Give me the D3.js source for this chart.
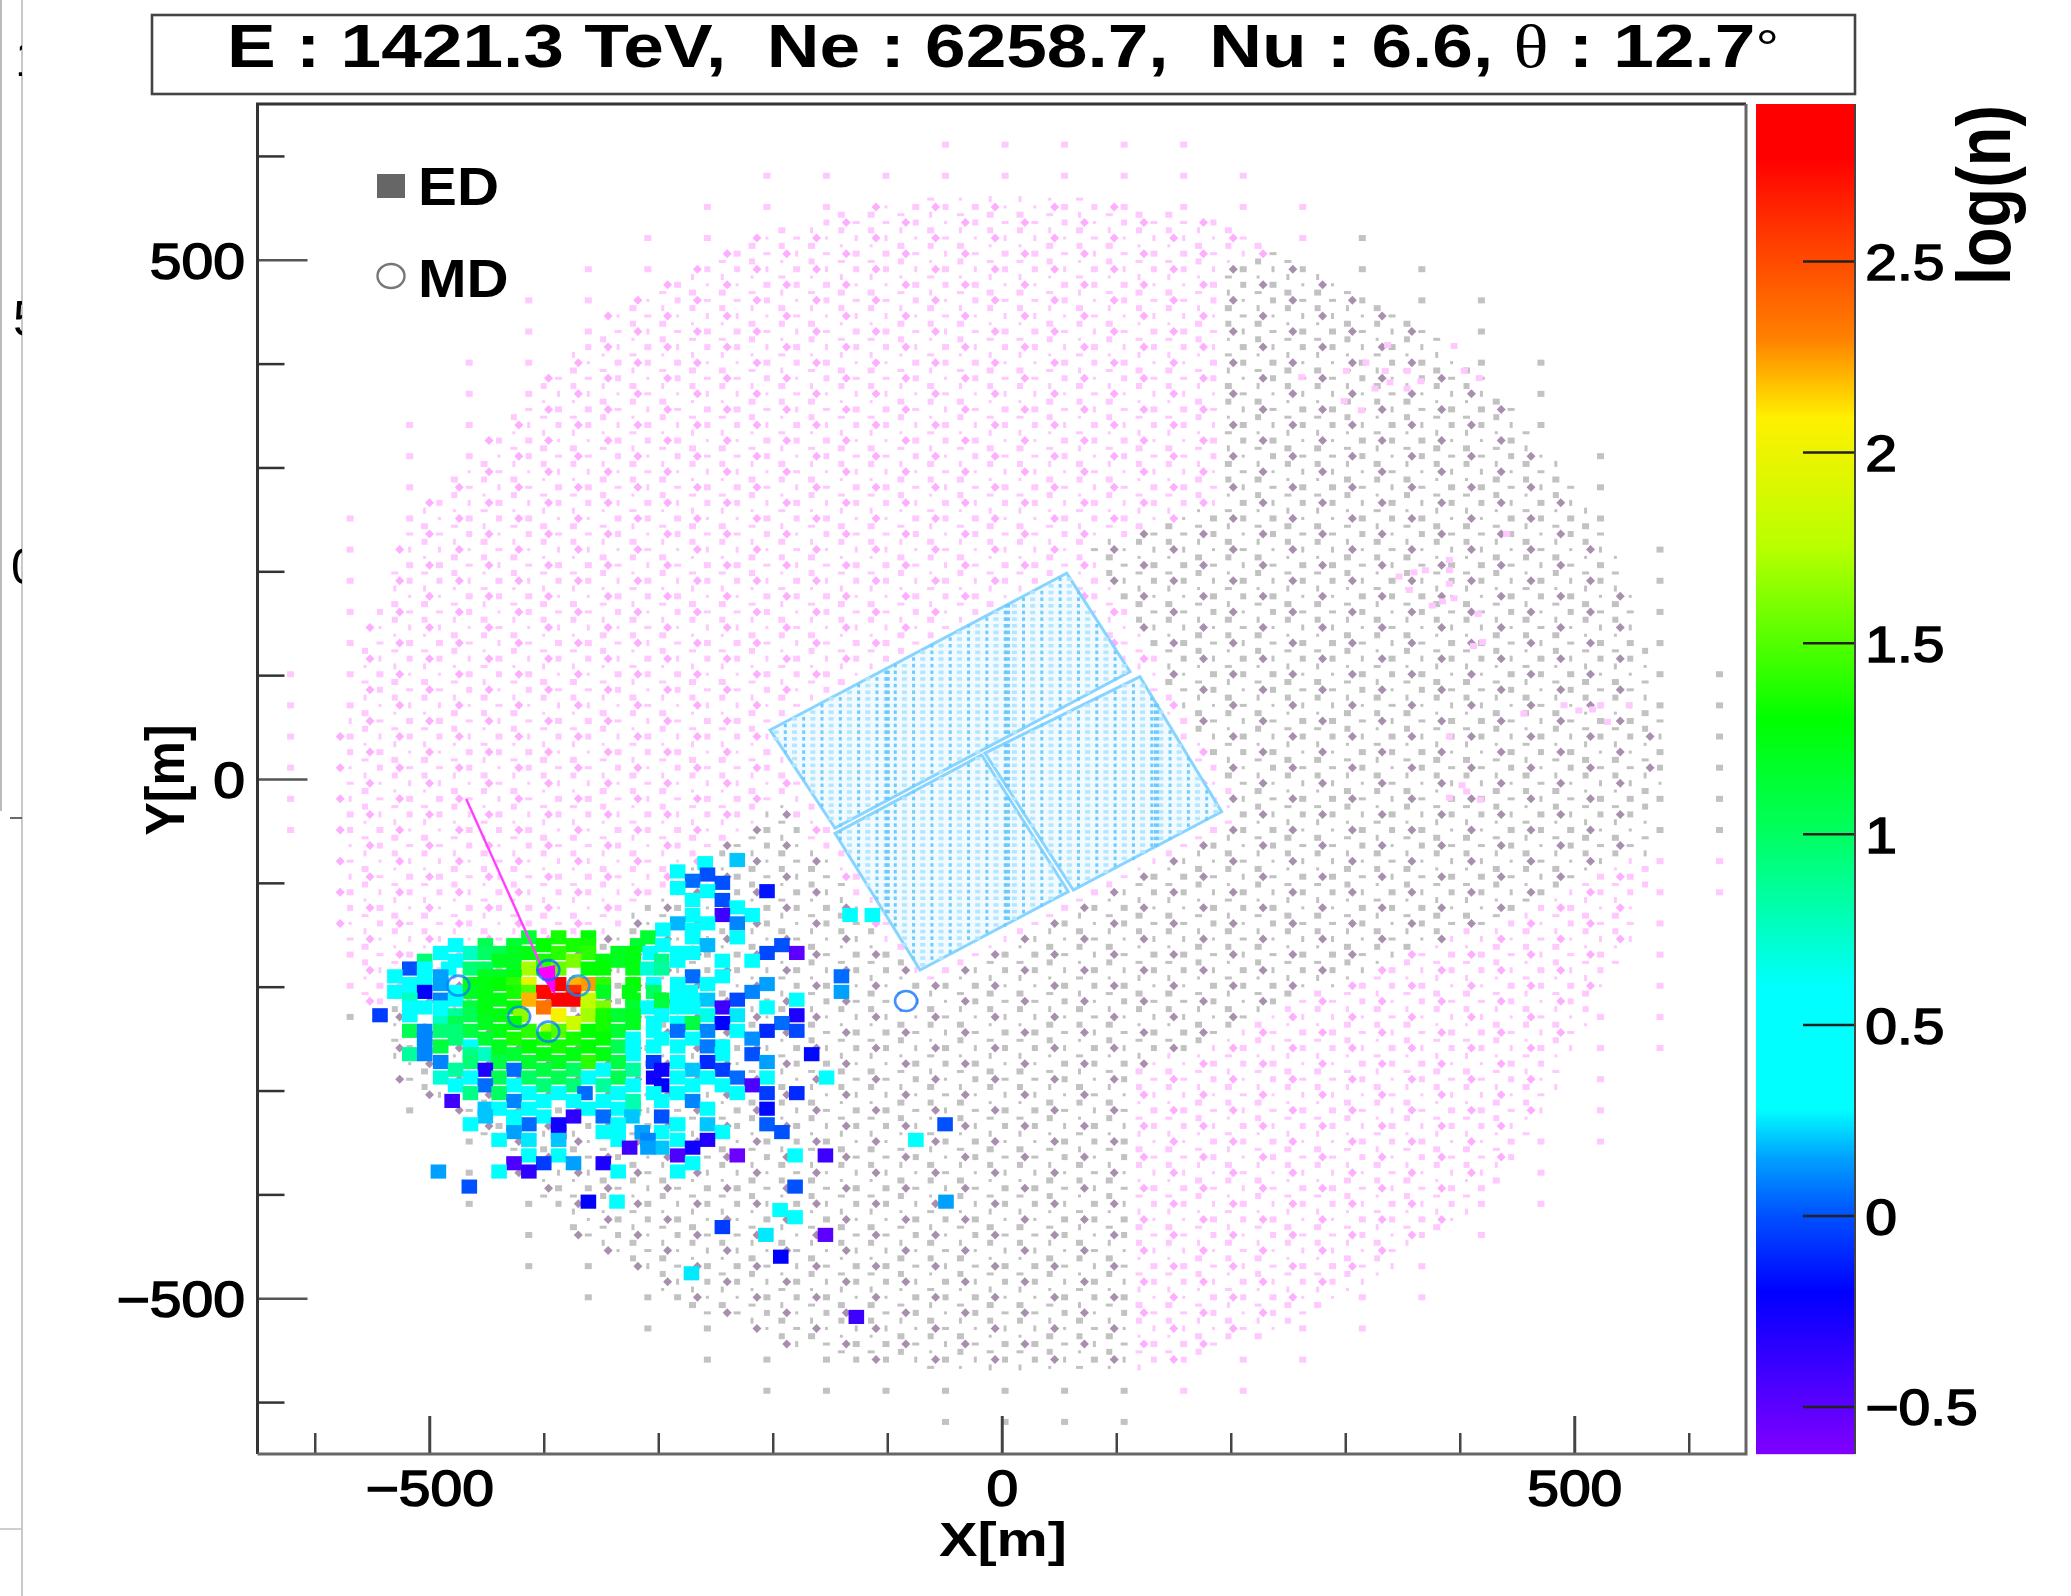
<!DOCTYPE html>
<html>
<head>
<meta charset="utf-8">
<script src="https://cdn.jsdelivr.net/npm/d3@7"></script>
<style>
    html, body { margin: 0; padding: 0; background: #fff; }
    svg { display: block; filter: blur(0.6px); }
    text { font-family: "Liberation Sans", Arial, sans-serif; fill: #000; }
</style>
</head>
<body>
<div id="main"></div>
<script>
var ctx = {
    w: 2071,
    h: 1596,
    left: 257.5,
    right: 1746,
    top: 104,
    bottom: 1454,
    HIT_SIZE: 13.6, // metres, side of a fired detector square
    TEXT_STRETCH: 1.14, // the source picture is wider than tall
};

// colour scale
var paletteValues = [-0.62, -0.2, 0, 0.15, 0.28, 0.6, 1, 1.3, 1.75, 2.09, 2.3, 2.6, 2.77, 2.91];
var paletteColors = ["#8000ff", "#0000ff", "#0050ff", "#00a0ff", "#00ffff", "#00ffff", "#00ff60", "#00ff00", "#b8ff00", "#fff000", "#ff8000", "#ff3000", "#ff0000", "#ff0000"];

var xMajor = [-500, 0, 500];
var xMinor = [-600, -400, -300, -200, -100, 100, 200, 300, 400, 600];
var yMajor = [-500, 0, 500];
var yMinor = [-600, -400, -300, -200, -100, 100, 200, 300, 400, 600];
var barTicks = [-0.5, 0, 0.5, 1, 1.5, 2, 2.5];

// fired detectors, one row per y [m]: [y, [[x, log(n)], ...]]
var hitRows = [
    [-78, [[-231, 0.2]]],
    [-81, [[-259, 0.3]]],
    [-89, [[-283, 0.4]]],
    [-92, [[-257, 0]]],
    [-98, [[-270, 0.05]]],
    [-100, [[-244, 0]]],
    [-105, [[-283, 0.4]]],
    [-108, [[-257, 0.4], [-205, -0.15]]],
    [-116.5, [[-244, 0], [-270, 0.45]]],
    [-123.6, [[-231, 0.4]]],
    [-131, [[-270, 0.45], [-218, 0.4], [-244, -0.4], [-132.5, 0.4], [-113, 0.55]]],
    [-139, [[-231, 0.1], [-257, 0.4], [-283, 0.18]]],
    [-145, [[-296, 0.45], [-270, 0.45]]],
    [-152.5, [[-413, 1.15], [-387, 1.35], [-361, 1.3], [-309, 1.15], [-231, 0.4], [-270, 0.45]]],
    [-160, [[-477, 0.55], [-451, 1.05], [-426, 1.15], [-400, 1.3], [-374, 1.35], [-361, 1.35], [-318, 1.15], [-257, 0.18], [-192, 0], [-296, 0.55]]],
    [-167.5, [[-490, 0.55], [-464, 0.75], [-439, 1.05], [-451, 1], [-426, 1.2], [-413, 1.25], [-387, 1.4], [-361, 1.4], [-335, 1.2], [-322, 1.25], [-307, 0.6], [-283, 0.6], [-270, 0.5], [-205, -0.02], [-179, -0.5]]],
    [-175, [[-504, 0.95], [-477, 0.55], [-439, 1.2], [-426, 1.2], [-400, 1.35], [-374, 1.6], [-348, 1.25], [-335, 1.2], [-322, 1.25], [-297, 0.9], [-283, 0.55], [-244, 0.45], [-218, 0.4]]],
    [-182.5, [[-517, 0], [-504, 0.55], [-483, 0.6], [-464, 0.95], [-451, 1], [-426, 1.2], [-413, 1.7], [-400, 1.4], [-387, 1.55], [-361, 1.3], [-348, 1.3], [-322, 1.25], [-309, 0.7], [-297, 0.85]]],
    [-190, [[-530, 0.45], [-504, 0.5], [-490, 0.15], [-451, 1.2], [-439, 1.2], [-426, 1.25], [-270, 0.05], [-244, 0.4], [-140, 0.05]]],
    [-197.5, [[-517, 0.55], [-504, 0.55], [-490, 0.15], [-464, 1.25], [-451, 1.25], [-439, 1.3], [-426, 1.4], [-413, 1.95], [-387, 2.8], [-371, 2.2], [-361, 2.25], [-348, 1.4], [-322, 1.3], [-304, 0.45], [-283, 0.55], [-257, 0.35], [-205, 0.15]]],
    [-205, [[-530, 0.45], [-517, 0.45], [-504, -0.2], [-477, 0.55], [-464, 1.2], [-451, 1.25], [-426, 1.35], [-413, 1.5], [-400, 2.75], [-374, 2.6], [-348, 1.2], [-325, 1.25], [-304, 1], [-283, 0.55], [-272, 0.5], [-140, 0.15], [-218, 0.1]]],
    [-212.5, [[-517, 0.75], [-490, 0.1], [-477, 0.55], [-451, 1.25], [-439, 1.25], [-413, 2.2], [-387, 2.8], [-374, 2.8], [-361, 1.8], [-322, 1.25], [-297, 1.15], [-283, 0.6], [-270, 0.5], [-257, 0.2], [-231, -0.02], [-179, 0.4]]],
    [-220, [[-517, 0.45], [-504, 0.5], [-490, 0.5], [-464, 1.1], [-451, 1.25], [-426, 1.3], [-400, 2.35], [-361, 1.8], [-348, 1.6], [-322, 1.15], [-309, 0.6], [-297, 1.1], [-283, 0.55], [-270, 0.5], [-244, -0.4], [-205, 0.35]]],
    [-227.5, [[-543, -0.05], [-517, 0.45], [-490, 0.5], [-477, 0.85], [-464, 1.05], [-451, 1.25], [-439, 1.25], [-420, 1.65], [-387, 2.05], [-361, 1.7], [-348, 1.35], [-335, 1.15], [-322, 1.2], [-297, 0.5], [-257, 0.65], [-179, -0.3], [-231, 0.25]]],
    [-235, [[-490, 0.75], [-477, 1.05], [-451, 1.2], [-426, 1.3], [-374, 1.85], [-348, 1.35], [-322, 1.2], [-304, 0.45], [-283, 0.5], [-270, 1.1], [-244, -0.2], [-192, 0.05]]],
    [-242.5, [[-517, 1.05], [-504, 0.1], [-490, 0.95], [-477, 0.95], [-464, 1.1], [-439, 1.25], [-413, 1.4], [-396, 1.7], [-387, 1.5], [-361, 1.3], [-348, 1.35], [-335, 1.15], [-304, 0.45], [-283, 0.05], [-257, 0.1], [-205, -0.1], [-179, -0.02], [-231, 0.4]]],
    [-250, [[-504, 0.1], [-477, 0.95], [-451, 1.15], [-426, 1.35], [-400, 1.35], [-374, 1.35], [-348, 1.3], [-322, 0.5], [-297, 0.45], [-270, 0.45], [-218, 0.12]]],
    [-257.5, [[-504, 0.1], [-490, 1.1], [-464, 0.6], [-439, 1.2], [-413, 1.3], [-387, 1.35], [-361, 1.3], [-335, 1.05], [-322, 0.5], [-304, 0.4], [-283, 0.45], [-244, 0.4], [-257, 0.08]]],
    [-265, [[-517, 0.85], [-504, 0.1], [-464, 0.9], [-451, 0.75], [-439, 1.2], [-426, 1.15], [-400, 1.25], [-374, 1.25], [-348, 1.25], [-322, 0.45], [-166, -0.18], [-218, 0], [-244, 0.45]]],
    [-272.5, [[-490, 0.1], [-464, 0.95], [-439, 1.1], [-413, 1.15], [-387, 1.2], [-361, 1.4], [-335, 1.1], [-304, -0.05], [-283, 0.55], [-257, -0.1], [-205, 0.15]]],
    [-280, [[-477, 0.85], [-451, -0.3], [-426, 0.05], [-400, 1.1], [-374, 1], [-348, 0.45], [-322, 0.85], [-297, -0.25], [-270, 0.2], [-244, -0.05]]],
    [-287.5, [[-490, 0.7], [-464, 0.4], [-439, 1.05], [-413, 1], [-387, 1.05], [-361, 0.4], [-335, 1.05], [-304, -0.25], [-283, 0.45], [-257, 0.45], [-205, 0.35], [-231, 0.05], [-153, 0.35]]],
    [-295, [[-477, 0.45], [-451, 0.05], [-426, 0.35], [-400, 0.95], [-374, 0.95], [-348, 0.85], [-322, 0.45], [-297, -0.2], [-270, 0.5], [-218, -0.45], [-244, 0.4]]],
    [-302.5, [[-464, 0.9], [-439, 1], [-413, 0.45], [-387, 0.4], [-364, 0.05], [-335, 0.45], [-304, 0.45], [-283, 0.45], [-231, 0.45], [-205, -0.05], [-179, -0.1]]],
    [-310, [[-480, -0.4], [-426, 0.1], [-400, 0.4], [-374, 0.45], [-348, 0.35], [-322, 0.8], [-297, 0.4], [-270, 0.1]]],
    [-317.5, [[-451, 0.2], [-439, 0.45], [-413, 0.45], [-361, 0.4], [-335, 0.45], [-322, 0.8], [-205, -0.18], [-257, 0.4]]],
    [-325, [[-451, 0.2], [-426, 0.4], [-400, 0.4], [-374, -0.35], [-348, 0.05], [-323, 0.2], [-297, 0]]],
    [-332.5, [[-464, 0.45], [-413, 0.05], [-426, 0.4], [-387, -0.25], [-335, 0.3], [-283, 0.4], [-257, 0.2], [-205, 0.02], [-49.5, 0]]],
    [-340, [[-426, 0.15], [-387, -0.25], [-348, 0.4], [-335, 0.35], [-314, 0.15], [-297, 0.35], [-192, 0], [-244, 0.35]]],
    [-347.5, [[-439, 0.4], [-413, 0.25], [-387, 0.2], [-335, 0.35], [-309, 0.1], [-283, 0.4], [-257, -0.3], [-75, 0.4]]],
    [-355, [[-325, -0.4], [-297, 0.2], [-309, 0.15], [-270, -0.25]]],
    [-362.5, [[-387, 0.35], [-413, 0.35], [-283, -0.45], [-231, -0.55], [-180.5, 0.4], [-154, -0.4]]],
    [-370, [[-426, -0.45], [-400, -0.05], [-374, 0.15], [-348, -0.3], [-270, 0.35]]],
    [-378, [[-492, 0.15], [-439, 0.4], [-413, -0.35], [-335, 0.35], [-283, 0.4]]],
    [-392.5, [[-465, 0], [-180.5, 0]]],
    [-407, [[-336, 0.55], [-361, -0.2], [-48.7, 0.15]]],
    [-415, [[-193.6, 0.4]]],
    [-422, [[-180.5, 0.4]]],
    [-431.5, [[-244, -0.05]]],
    [-439, [[-154, -0.5], [-206, 0.25]]],
    [-460, [[-193, -0.2]]],
    [-476, [[-271, 0.25]]],
    [-518, [[-127, -0.4]]],
];

// muon detectors that fired: [x, y, log(n)]
var mdHits = [
    [-474.5, -199, 0.08],
    [-421.5, -229, 0.08],
    [-396, -243.3, 0.08],
    [-369.7, -199, 0.12],
    [-396, -184, 0.05],
    [-83.6, -213.8, 0.05],
];

// shower axis: start of the line, then the arrow head
var axisLine = [[-467.7, -19.3], [-392, -205]];
var axisHead = [[-407, -183], [-390, -179], [-390, -208]];

// water tank blocks [m]
var tankBlocks = [
    [[-202.3, 47.2], [56.7, 198.1], [112, 103.3], [-145.6, -47.2]],
    [[-14.6, 25], [120.7, 98.5], [192, -31.5], [62.5, -106.9]],
    [[-145.6, -52.3], [-17.5, 23.1], [58.1, -108.5], [-71.4, -183.9]],
];
var tankHull = [[-202.3, 47.2], [56.7, 198.1], [192, -31.5], [-71.4, -183.9]];
var tankSeams = [-100, 5, 135];

// outlines of the array [m]
var denseOutline = [[-188, 532], [-242, 507], [-297, 482], [-347, 437], [-397, 386], [-460, 307], [-502, 266], [-526, 220], [-553, 140], [-575, 40], [-575, -100], [-565, -200], [-520, -290], [-465, -330], [-414, -393], [-375, -434], [-336, -463], [-297, -492], [-258, -514], [-188, -547], [-100, -565], [53, -574], [120, -572], [186, -551], [261, -526], [316, -488], [366, -451], [416, -409], [453, -359], [487, -297], [516, -225], [545, -175], [562, -108], [575, -16], [577, 44], [567, 103], [542, 207], [516, 253], [487, 299], [458, 343], [416, 395], [354, 445], [261, 503], [207, 532], [124, 550], [20, 566], [-100, 555]];
var outerOutline = [[53, 632], [-50, 632], [-105, 602], [-230, 586], [-310, 540], [-387, 496], [-466, 421], [-518, 360], [-543, 316], [-568, 271], [-595, 196], [-627, 115], [-627, 28], [-627, -40], [-580, -180], [-574, -244], [-548, -319], [-522, -333], [-497, -347], [-470, -364], [-470, -423], [-445, -437], [-419, -453], [-419, -479], [-392, -499], [-366, -514], [-341, -527], [-314, -543], [-288, -557], [-263, -572], [-238, -586], [-212, -596], [53, -635], [132, -622], [157, -610], [237, -593], [288, -563], [341, -533], [366, -518], [393, -472], [471, -429], [495, -382], [520, -368], [548, -324], [573, -278], [580, -244], [605, -195], [630, -123], [632, -63], [634, -4], [632, 57], [626, 121], [605, 161], [601, 196], [580, 241], [553, 287], [553, 317], [525, 331], [503, 373], [473, 389], [477, 421], [450, 437], [423, 482], [396, 496], [369, 510], [344, 525], [319, 541], [293, 556], [239, 586], [214, 601], [132, 617]];

// part of the array drawn grey (no signal), everything else is pink
var greyRegion = [[110, -700], [110, -283], [583, -63], [700, -50], [700, 700], [340, 565], [298, 530], [186, 487], [186, 266], [150, 250], [77, 223], [85, 200], [140, 105], [210, -35], [65, -125], [-71, -200], [-165, -60], [-190, -15], [-214, -40], [-345, -148], [-570, -225], [-700, -260], [-700, -700]];

// lone pink detectors inside the grey part
var strayPink = [[337, 418], [395, 417], [318, 401], [335, 393], [354, 393], [366, 383], [301, 393], [326, 376], [339, 382], [354, 376], [299, 364], [314, 355], [262, 387], [404, 393], [417, 386], [347, 195], [360, 199], [370, 201], [391, 211], [391, 201], [391, 188], [356, 182], [385, 171], [395, 174], [376, 167], [416, 159], [420, 132], [412, 128], [441, 236], [491, 71], [504, 66], [516, 67], [529, 55], [548, 71], [523, 71], [391, 41], [456, 63], [391, -18], [406, -12], [402, -6], [418, -20]];

// lattice of the array, spacing and phase [m]
var latticeY0 = 340.9;
var latticeX0 = 210.9;
var latticeStepX = 26;
var latticeStepY = 7.5;
var mdOffsetX = -8.7;

// dot shapes the resampled picture shows for an ED [px wide, px high]
var edShapes = [[7, 6], [3, 6], [7, 3], [3, 3], [6, 6]];

var X = d3.scaleLinear().domain([-650, 650]).range([ctx.left, ctx.right]);
var Y = d3.scaleLinear().domain([-650, 650]).range([ctx.bottom, ctx.top]);
var barY = d3.scaleLinear().domain([1, 2.5]).range([833.7, 261]);
var color = d3.scaleLinear().domain(paletteValues).range(paletteColors).clamp(true);

var fmt = (d) => String(d).replace("-", "\u2212");

var buildLattice = function () {
    // every ED on the 15 m lattice, every MD on the 30 m one
    var ed = [];
    var md = [];
    for (var j = -170; j <= 90; j++) {
        for (var k = -35; k <= 25; k++) {
            var x = latticeX0 + (k + (j % 2 === 0 ? 0 : -0.5)) * latticeStepX;
            var y = latticeY0 + j * latticeStepY;
            var p = [x, y];
            if (!d3.polygonContains(outerOutline, p)) continue;
            if (d3.polygonContains(tankHull, p)) continue;
            var dense = d3.polygonContains(denseOutline, p);
            if (!dense && (j % 4 !== 0 || k % 2 !== 0)) continue;
            var shape = dense ? edShapes[(((k * k + 3 * j) % 5) + 5) % 5] : edShapes[0];
            ed.push({ x: x, y: y, w: shape[0], h: shape[1], grey: d3.polygonContains(greyRegion, p) });
            if (dense && j % 2 === 0 && (((k % 2) + 2) % 2) === ((j / 2) % 2 === 0 ? 0 : 1)) {
                var q = [x + mdOffsetX, y];
                if (!d3.polygonContains(tankHull, q)) {
                    md.push({ x: q[0], y: y, grey: d3.polygonContains(greyRegion, q) });
                }
            }
        }
    }
    return { ed: ed, md: md };
};

var drawArray = function (svg) {
    var lattice = buildLattice();
    var g = svg.append("g").attr("id", "array");
    g.selectAll("rect.ed")
        .data(lattice.ed)
        .enter()
        .append("rect")
        .attr("class", "ed")
        .attr("x", (d) => X(d.x) - d.w / 2)
        .attr("y", (d) => Y(d.y) - d.h / 2)
        .attr("width", (d) => d.w)
        .attr("height", (d) => d.h)
        .style("fill", (d) => (d.grey ? "#c2c2c2" : "#ffc8ff"));
    g.selectAll("path.md")
        .data(lattice.md)
        .enter()
        .append("path")
        .attr("class", "md")
        .attr("d", (d) => {
            var cx = X(d.x);
            var cy = Y(d.y);
            return `M${cx - 4.5},${cy}L${cx},${cy - 4.5}L${cx + 4.5},${cy}L${cx},${cy + 4.5}Z`;
        })
        .style("fill", (d) => (d.grey ? "#a98fae" : "#ffadff"));
    g.selectAll("rect.stray")
        .data(strayPink)
        .enter()
        .append("rect")
        .attr("class", "stray")
        .attr("x", (d) => X(d[0]) - 3.5)
        .attr("y", (d) => Y(d[1]) - 3)
        .attr("width", 7)
        .attr("height", 6)
        .style("fill", "#ffc8ff");
};

var drawTanks = function (svg) {
    var g = svg.append("g").attr("id", "tanks");
    var line = (pts) => "M" + pts.map((p) => X(p[0]) + "," + Y(p[1])).join("L") + "Z";
    g.selectAll("path")
        .data(tankBlocks)
        .enter()
        .append("path")
        .attr("d", line)
        .style("fill", "#f0faff")
        .style("stroke", "#86d4ff")
        .style("stroke-width", 3);
    // cells of the tanks, a regular grid
    var cells = [];
    tankBlocks.forEach((block) => {
        d3.range(-205, 195, 8).forEach((x, i) => {
            d3.range(-185, 200, 6.4).forEach((y) => {
                if (d3.polygonContains(block, [x, y])) {
                    cells.push({ x: x, y: y, strong: i % 2 === 0 });
                }
            });
        });
        tankSeams.forEach((x) => {
            d3.range(-185, 200, 6.4).forEach((y) => {
                if (d3.polygonContains(block, [x, y])) {
                    cells.push({ x: x, y: y, seam: true });
                }
            });
        });
    });
    g.selectAll("rect")
        .data(cells)
        .enter()
        .append("rect")
        .attr("x", (d) => X(d.x) - (d.strong ? 1.5 : 2.5))
        .attr("y", (d) => Y(d.y) - 1.5)
        .attr("width", (d) => (d.strong ? 3 : 5))
        .attr("height", 3.5)
        .style("fill", (d) => (d.seam ? "#6cc9ff" : d.strong ? "#6fccff" : "#b4e6ff"));
};

var drawHits = function (svg) {
    var hits = hitRows.flatMap((row) => row[1].map((h) => ({ x: h[0], y: row[0], v: h[1] })));
    var w = X(ctx.HIT_SIZE) - X(0);
    var h = Y(0) - Y(ctx.HIT_SIZE);
    svg.append("g")
        .attr("id", "hits")
        .selectAll("rect")
        .data(hits)
        .enter()
        .append("rect")
        .attr("x", (d) => X(d.x) - w / 2)
        .attr("y", (d) => Y(d.y) - h / 2)
        .attr("width", w)
        .attr("height", h)
        .style("fill", (d) => color(d.v));

    var pts = (list) => list.map((p) => X(p[0]) + "," + Y(p[1])).join(" ");
    svg.append("polyline")
        .attr("points", pts(axisLine))
        .style("fill", "none")
        .style("stroke", "#ff40ff")
        .style("stroke-width", 2.4);
    svg.append("polygon").attr("points", pts(axisHead)).style("fill", "#ff00ff");

    // the lone circle away from the core sits on a clean white patch
    svg.append("g")
        .attr("id", "md-hits")
        .selectAll("ellipse")
        .data(mdHits)
        .enter()
        .append("ellipse")
        .attr("cx", (d) => X(d[0]))
        .attr("cy", (d) => Y(d[1]))
        .attr("rx", 11)
        .attr("ry", 10)
        .style("fill", (d, i) => (i === mdHits.length - 1 ? "#fff" : "none"))
        .style("stroke", (d) => color(d[2]))
        .style("stroke-opacity", 0.75)
        .style("stroke-width", 2.6);
};

var styleAxis = function (g, width, stroke) {
    g.select(".domain").remove();
    g.selectAll("line").style("stroke", stroke).style("stroke-width", width);
    g.selectAll("text")
        .style("font-size", "50px")
        .style("stroke", "#000")
        .style("stroke-width", 1.5);
};

var drawAxes = function (svg) {
    var inside = `scale(${ctx.TEXT_STRETCH},1)`;

    var gx = svg.append("g").attr("transform", `translate(0,${ctx.bottom})`);
    gx.append("g")
        .call(d3.axisBottom(X).tickValues(xMajor).tickSizeOuter(0).tickSizeInner(-38).tickPadding(17).tickFormat(fmt))
        .call(styleAxis, 3, "#444")
        .selectAll("text")
        .attr("transform", inside);
    gx.append("g")
        .call(d3.axisBottom(X).tickValues(xMinor).tickSizeOuter(0).tickSizeInner(-21).tickFormat(""))
        .call(styleAxis, 2.5, "#444");

    var gy = svg.append("g").attr("transform", `translate(${ctx.left},0)`);
    gy.append("g")
        .call(d3.axisLeft(Y).tickValues(yMajor).tickSizeOuter(0).tickSizeInner(-50).tickPadding(11).tickFormat(fmt))
        .call(styleAxis, 2.5, "#555")
        .selectAll("text")
        .attr("dy", "0.37em")
        .attr("transform", inside);
    gy.append("g")
        .call(d3.axisLeft(Y).tickValues(yMinor).tickSizeOuter(0).tickSizeInner(-27).tickFormat(""))
        .call(styleAxis, 2.5, "#333");

    // frame of the plot
    var frame = svg.append("g").style("fill", "none");
    frame.append("path")
        .attr("d", `M${ctx.left},${ctx.bottom}V${ctx.top}H${ctx.right}`)
        .style("stroke", "#333")
        .style("stroke-width", 3);
    frame.append("path")
        .attr("d", `M${ctx.right},${ctx.top}V${ctx.bottom}H${ctx.left}`)
        .style("stroke", "#666")
        .style("stroke-width", 3);

    svg.append("text")
        .attr("transform", `translate(1003,1556) scale(1.2,1)`)
        .attr("text-anchor", "middle")
        .style("font-size", "48px")
        .style("font-weight", "bold")
        .text("X[m]");
    svg.append("text")
        .attr("transform", `translate(184,780) scale(1.12,1) rotate(-90)`)
        .attr("text-anchor", "middle")
        .style("font-size", "50px")
        .style("font-weight", "bold")
        .text("Y[m]");
};

var drawPalette = function (svg) {
    var x0 = 1756;
    var x1 = 1855;
    var bands = d3.range(ctx.top, ctx.bottom, 1);
    svg.append("g")
        .attr("id", "palette")
        .selectAll("rect")
        .data(bands)
        .enter()
        .append("rect")
        .attr("x", x0)
        .attr("y", (d) => d)
        .attr("width", x1 - x0)
        .attr("height", 1.2)
        .style("fill", (d) => color(barY.invert(d)));
    svg.append("g")
        .attr("transform", `translate(${x1},0)`)
        .call(d3.axisRight(barY).tickValues(barTicks).tickSizeOuter(0).tickSizeInner(-52).tickPadding(9).tickFormat(fmt))
        .call(styleAxis, 2.5, "#222")
        .selectAll("text")
        .attr("dy", "0.37em")
        .attr("transform", `scale(${ctx.TEXT_STRETCH},1)`);
    svg.append("line")
        .attr("x1", x1)
        .attr("x2", x1)
        .attr("y1", ctx.top)
        .attr("y2", ctx.bottom)
        .style("stroke", "#444")
        .style("stroke-width", 2);
    svg.append("text")
        .attr("transform", "translate(2010,285) scale(1.16,1) rotate(-90)")
        .attr("textLength", 180)
        .attr("lengthAdjust", "spacingAndGlyphs")
        .style("font-size", "65px")
        .style("font-weight", "bold")
        .text("log(n)");
};

var drawTitle = function (svg) {
    svg.append("rect")
        .attr("x", 152)
        .attr("y", 15)
        .attr("width", 1703)
        .attr("height", 79)
        .style("fill", "none")
        .style("stroke", "#444")
        .style("stroke-width", 2.6);
    var t = svg.append("text")
        .attr("x", 227)
        .attr("y", 67)
        .attr("textLength", 1552)
        .attr("lengthAdjust", "spacingAndGlyphs")
        .style("font-size", "62px")
        .style("font-weight", "bold")
        .style("white-space", "pre");
    t.append("tspan").text("E : 1421.3 TeV,  Ne : 6258.7,  Nu : 6.6, ");
    t.append("tspan").style("font-family", '"Liberation Serif"').style("font-weight", "normal").text("\u03b8");
    t.append("tspan").text(" : 12.7");
    t.append("tspan").style("font-weight", "normal").style("font-size", "50px").attr("dy", -2).text("\u00b0");
};

var drawLegend = function (svg) {
    svg.append("rect")
        .attr("x", 377)
        .attr("y", 174)
        .attr("width", 28)
        .attr("height", 24)
        .style("fill", "#666");
    svg.append("ellipse")
        .attr("cx", 391)
        .attr("cy", 276)
        .attr("rx", 13.5)
        .attr("ry", 12)
        .style("fill", "none")
        .style("stroke", "#777")
        .style("stroke-width", 2.4);
    [["ED", 205], ["MD", 297]].forEach((d) => {
        svg.append("text")
            .attr("transform", `translate(418,${d[1]}) scale(1.1,1)`)
            .style("font-size", "53px")
            .style("font-weight", "bold")
            .text(d[0]);
    });
};

// bits of the neighbouring figure cropped into the left margin of the source
var drawMargin = function (svg) {
    var defs = svg.append("clipPath").attr("id", "margin-clip");
    defs.append("rect").attr("x", 0).attr("y", 0).attr("width", 22).attr("height", ctx.h);
    var lines = [
        [22, 0, 22, ctx.h, "#bbb"],
        [1, 0, 1, 811, "#aaa"],
        [0, 1529, 22, 1529, "#c4c4c4"],
        [10, 818, 22, 818, "#444"],
    ];
    lines.forEach((l) => {
        svg.append("line")
            .attr("x1", l[0])
            .attr("y1", l[1])
            .attr("x2", l[2])
            .attr("y2", l[3])
            .style("stroke", l[4])
            .style("stroke-width", 1.6);
    });
    var g = svg.append("g").attr("clip-path", "url(#margin-clip)");
    [["1", 15, 76], ["5", 13, 336], ["0", 11, 584]].forEach((d) => {
        g.append("text")
            .attr("x", d[1])
            .attr("y", d[2])
            .style("font-size", "50px")
            .text(d[0]);
    });
};

var createViz = function () {
    console.log("Using D3 v" + d3.version);
    var svgEl = d3.select("#main").append("svg");
    svgEl.attr("width", ctx.w);
    svgEl.attr("height", ctx.h);
    svgEl.append("rect").attr("width", ctx.w).attr("height", ctx.h).style("fill", "#fff");
    drawMargin(svgEl);
    drawArray(svgEl);
    drawTanks(svgEl);
    drawHits(svgEl);
    drawAxes(svgEl);
    drawPalette(svgEl);
    drawTitle(svgEl);
    drawLegend(svgEl);
};

createViz();
</script>
</body>
</html>
